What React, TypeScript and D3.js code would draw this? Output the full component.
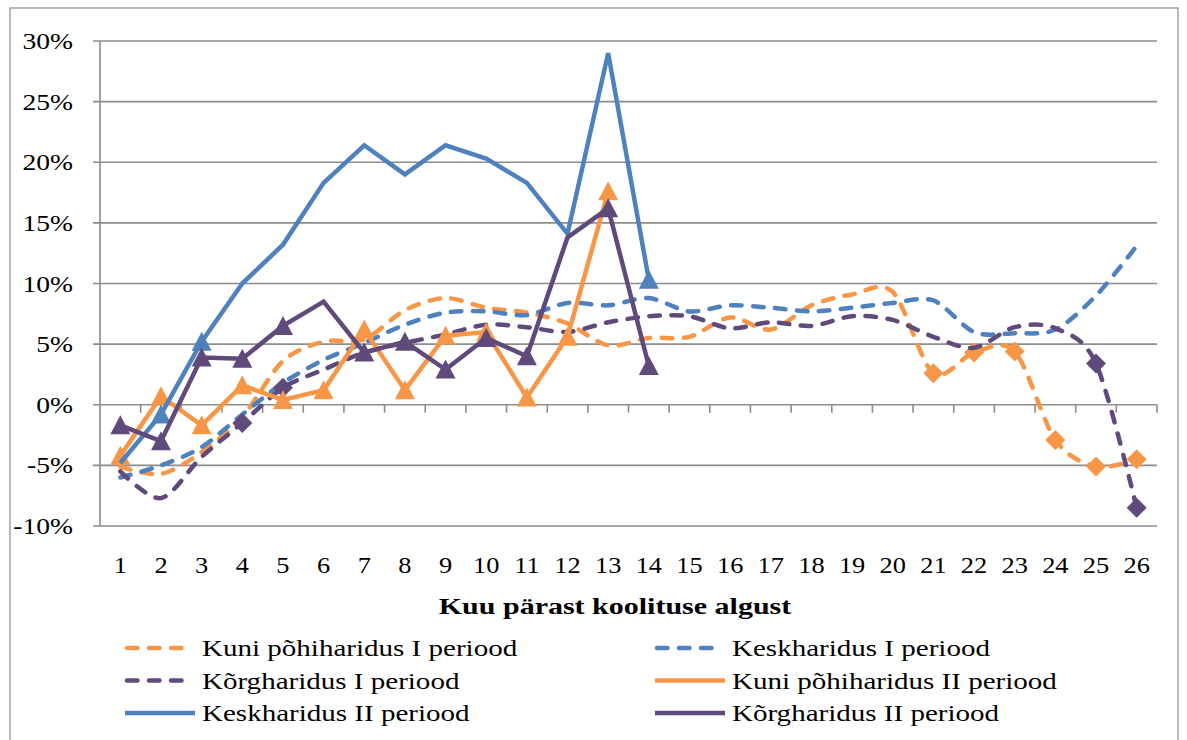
import React from 'react'
import * as d3 from 'd3'

const months = [1, 2, 3, 4, 5, 6, 7, 8, 9, 10, 11, 12, 13, 14, 15, 16, 17, 18, 19, 20, 21, 22, 23, 24, 25, 26]
const yTicks = [-10, -5, 0, 5, 10, 15, 20, 25, 30]

// values in %, null = no data
const kuniI = [-5.1, -5.7, -3.9, -1.0, 3.6, 5.2, 5.4, 7.8, 8.8, 8.0, 7.6, 6.7, 4.9, 5.5, 5.6, 7.2, 6.2, 8.2, 9.1, 9.3, 2.6, 4.3, 4.4, -2.9, -5.1, -4.5]
const keskI = [-6.0, -5.0, -3.5, -0.8, 1.8, 3.7, 5.1, 6.6, 7.6, 7.7, 7.4, 8.4, 8.2, 8.8, 7.7, 8.2, 8.0, 7.7, 8.0, 8.4, 8.6, 6.0, 5.9, 6.2, 9.0, 13.1]
const korgI = [-5.5, -7.7, -4.3, -1.5, 1.4, 2.9, 4.3, 5.1, 5.8, 6.6, 6.4, 6.0, 6.8, 7.3, 7.3, 6.3, 6.8, 6.5, 7.3, 7.0, 5.6, 4.7, 6.4, 6.3, 3.4, -8.5]
const kuniII = [-4.2, 0.7, -1.7, 1.6, 0.4, 1.2, 6.2, 1.2, 5.7, 6.0, 0.6, 5.6, 17.6, null]
const keskII = [-4.8, -0.8, 5.2, 10.0, 13.2, 18.3, 21.4, 19.0, 21.4, 20.3, 18.3, 14.1, 29.0, 10.3]
const korgII = [-1.7, -3.0, 3.9, 3.8, 6.5, 8.5, 4.3, 5.2, 2.9, 5.5, 4.0, 13.8, 16.2, 3.2]

// months that carry a marker
const kuniIMarks = [21, 22, 23, 24, 25, 26]
const korgIMarks = [4, 5, 25, 26]
const kuniIIMarks = [1, 2, 3, 4, 5, 6, 7, 8, 9, 10, 11, 12, 13]
const keskIIMarks = [2, 3, 14]
const korgIIMarks = [1, 2, 3, 4, 5, 7, 8, 9, 10, 11, 13, 14]

const orange = '#F79646'
const blue = '#4F81BD'
const purple = '#604A7B'

const series = [
  { name: 'Kuni põhiharidus I periood', values: kuniI, color: orange, dashed: true, marks: kuniIMarks, shape: 'diamond' },
  { name: 'Keskharidus I periood', values: keskI, color: blue, dashed: true, marks: [] as number[], shape: 'diamond' },
  { name: 'Kõrgharidus I periood', values: korgI, color: purple, dashed: true, marks: korgIMarks, shape: 'diamond' },
  { name: 'Kuni põhiharidus II periood', values: kuniII, color: orange, dashed: false, marks: kuniIIMarks, shape: 'triangle' },
  { name: 'Keskharidus II periood', values: keskII, color: blue, dashed: false, marks: keskIIMarks, shape: 'triangle' },
  { name: 'Kõrgharidus II periood', values: korgII, color: purple, dashed: false, marks: korgIIMarks, shape: 'triangle' },
]

// stretched serif text, like the wide Times of the original
function T(props: { x: number, y: number, sx: number, size: number, anchor?: string, bold?: boolean, children: any }) {
  const { x, y, sx, size, anchor, bold, children } = props
  return (
    <text transform={`translate(${x},${y}) scale(${sx},1)`} textAnchor={anchor || 'start'}
      fontSize={size} fontWeight={bold ? 'bold' : 'normal'} fill="#000">{children}</text>
  )
}

export default function App() {
  const width = 1187
  const height = 740
  const left = 100, right = 1157, top = 41, bottom = 526
  const font = '"Liberation Serif", "Times New Roman", serif'

  const x = d3.scaleBand<number>().domain(months).range([left, right])
  const y = d3.scaleLinear().domain([-10, 30]).range([bottom, top])
  const cx = (m: number) => (x(m) as number) + x.bandwidth() / 2

  const triPath = 'M0,-10L10,9L-10,9Z'
  const diaPath = 'M0,-10L10,0L0,10L-10,0Z'
  const dash = '10.5 11.5'

  return (
    <svg width={width} height={height} style={{ position: 'absolute', left: 0, top: 0, background: '#fff' }} fontFamily={font}>
      <rect x={10} y={8} width={1168} height={760} fill="none" stroke="#8a8a8a" strokeWidth={1.2} />
      {yTicks.map(t => (
        <g key={t}>
          <line x1={left - 7} x2={right} y1={y(t)} y2={y(t)} stroke="#8c8c8c" strokeWidth={1.6} />
          <T x={73} y={y(t) + 8} sx={1.15} size={24} anchor="end">{t + '%'}</T>
        </g>
      ))}
      <line x1={left} x2={left} y1={top} y2={bottom} stroke="#8c8c8c" strokeWidth={1.6} />
      {months.map(m => (
        <line key={'t' + m} x1={(x(m) as number) + x.bandwidth()} x2={(x(m) as number) + x.bandwidth()} y1={y(0)} y2={y(0) + 8} stroke="#8c8c8c" strokeWidth={1.6} />
      ))}
      {months.map(m => (
        <T key={'l' + m} x={cx(m)} y={573} sx={1.1} size={24} anchor="middle">{m}</T>
      ))}
      <T x={615} y={614} sx={1.25} size={24} anchor="middle" bold>Kuu pärast koolituse algust</T>

      {series.map(s => {
        const pts = s.values.map((v, i) => ({ m: months[i], v })).filter(p => p.v !== null) as { m: number, v: number }[]
        const line = d3.line<{ m: number, v: number }>()
          .x(p => cx(p.m))
          .y(p => y(p.v))
          .curve(s.dashed ? d3.curveCardinal.tension(0.1) : d3.curveLinear)
        const sym = s.shape === 'triangle' ? triPath : diaPath
        return (
          <g key={s.name}>
            <path d={line(pts) || ''} fill="none" stroke={s.color} strokeWidth={4.5}
              strokeDasharray={s.dashed ? dash : undefined} strokeLinecap={s.dashed ? 'round' : 'butt'} strokeLinejoin="miter" />
            {pts.filter(p => s.marks.includes(p.m)).map(p => (
              <path key={p.m} d={sym} fill={s.color} transform={`translate(${cx(p.m)},${y(p.v)})`} />
            ))}
          </g>
        )
      })}

      {series.map((s, i) => {
        const col = i % 2
        const row = Math.floor(i / 2)
        const lx = col === 0 ? 125 : 655
        const ly = 648 + row * 32.5
        return (
          <g key={'lg' + i}>
            <line x1={s.dashed ? lx + 2 : lx} x2={s.dashed ? lx + 62 : lx + 70} y1={ly} y2={ly} stroke={s.color} strokeWidth={4.5}
              strokeDasharray={s.dashed ? dash : undefined} strokeLinecap={s.dashed ? 'round' : 'butt'} />
            <T x={lx + 77} y={ly + 8} sx={1.21} size={24}>{s.name}</T>
          </g>
        )
      })}
    </svg>
  )
}
